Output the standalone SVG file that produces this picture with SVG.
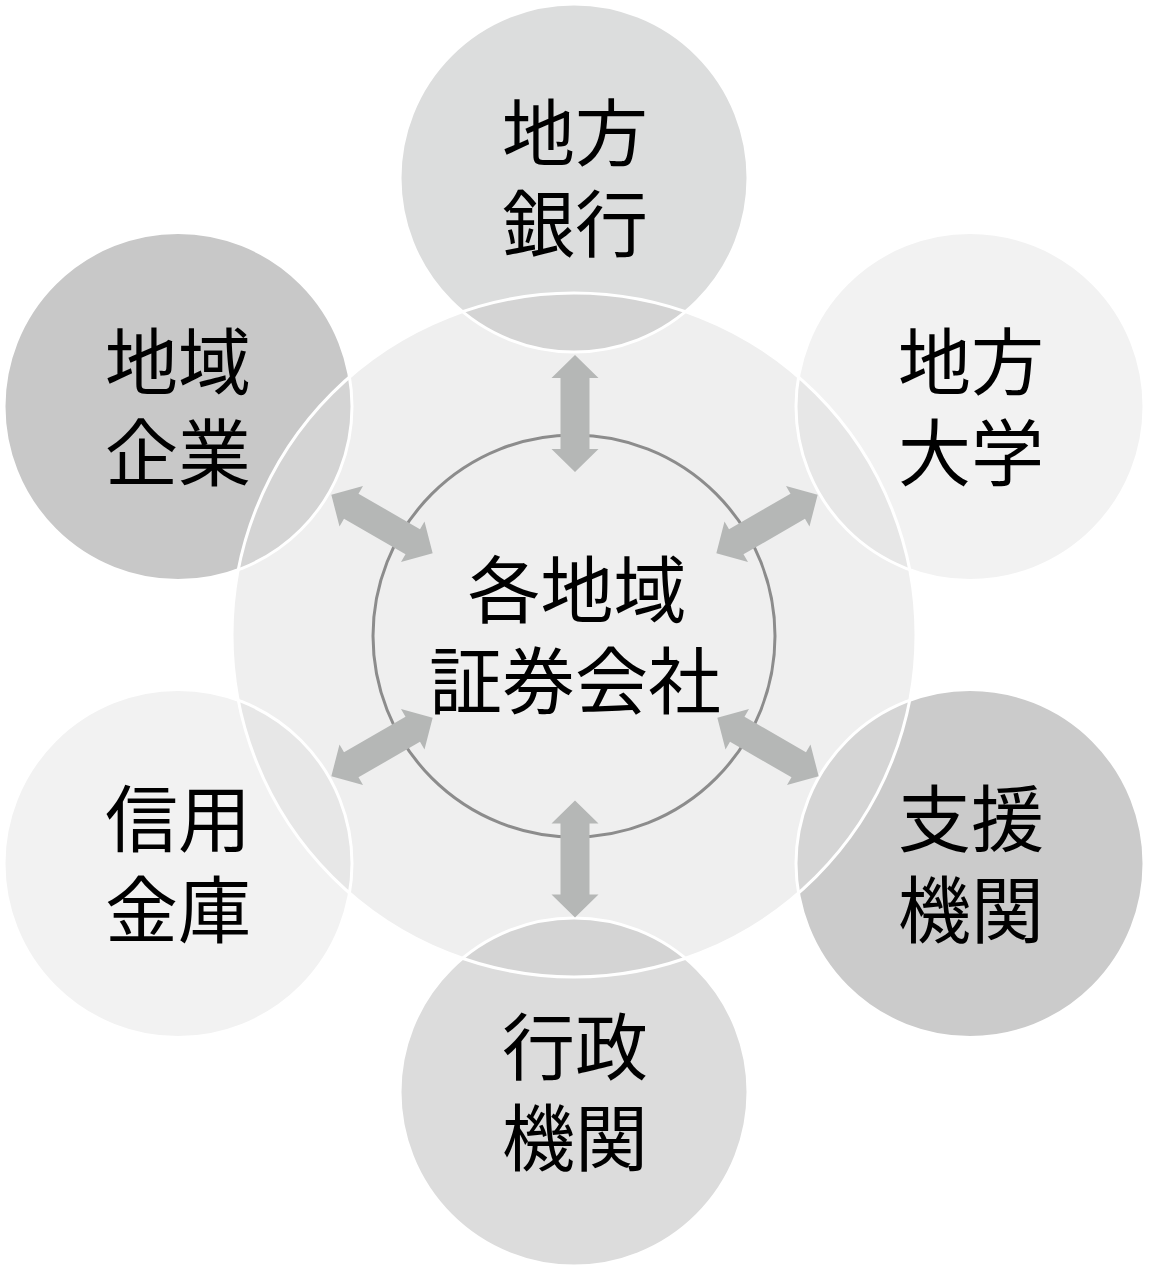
<svg xmlns="http://www.w3.org/2000/svg" width="1150" height="1272" viewBox="0 0 1150 1272">
<defs>
<style>
.ring{fill:none;stroke:#ffffff;stroke-width:3}
.lbl{font-family:"Noto Sans CJK JP","Noto Sans CJK SC",sans-serif;font-size:73px;fill:#000;text-anchor:middle}
.arr{fill:#b5b7b6}
</style>
<clipPath id="bigclip"><circle cx="574" cy="635" r="342"/></clipPath>
<path id="arrow" d="M0,-58.5 L23.5,-35.5 L14.5,-35.5 L14.5,35.5 L23.5,35.5 L0,58.5 L-23.5,35.5 L-14.5,35.5 L-14.5,-35.5 L-23.5,-35.5 Z"/>
</defs>
<rect width="1150" height="1272" fill="#ffffff"/>
<g id="fills">
<circle cx="574" cy="178" r="174" fill="#dcdddd"/>
<circle cx="970" cy="406.5" r="174" fill="#f2f2f2"/>
<circle cx="178" cy="406.5" r="174" fill="#c8c8c8"/>
<circle cx="178" cy="863.5" r="174" fill="#f2f2f2"/>
<circle cx="970" cy="863.5" r="174" fill="#cbcbcb"/>
<circle cx="574" cy="1092" r="174" fill="#dcdcdc"/>
<circle cx="574" cy="635" r="342" fill="#efefef"/>
<g clip-path="url(#bigclip)">
<circle cx="574" cy="178" r="174" fill="#d4d4d4"/>
<circle cx="970" cy="406.5" r="174" fill="#e7e7e7"/>
<circle cx="178" cy="406.5" r="174" fill="#d4d4d4"/>
<circle cx="178" cy="863.5" r="174" fill="#e7e7e7"/>
<circle cx="970" cy="863.5" r="174" fill="#d5d5d5"/>
<circle cx="574" cy="1092" r="174" fill="#d4d4d4"/>
</g>
</g>
<g id="center">
<circle class="ring" cx="574" cy="635" r="342"/>
<circle cx="574" cy="636" r="201" fill="#efefef" stroke="#8c8c8c" stroke-width="3"/>
<text class="lbl"><tspan x="577" y="617">各地域</tspan><tspan x="575" y="708">証券会社</tspan></text>
</g>
<g id="n-top">
<circle class="ring" cx="574" cy="178" r="174"/>
<text class="lbl"><tspan x="575" y="160">地方</tspan><tspan x="575" y="251">銀行</tspan></text>
</g>
<g id="n-topright">
<circle class="ring" cx="970" cy="406.5" r="174"/>
<text class="lbl"><tspan x="971" y="388.5">地方</tspan><tspan x="971" y="479.5">大学</tspan></text>
</g>
<g id="n-topleft">
<circle class="ring" cx="178" cy="406.5" r="174"/>
<text class="lbl"><tspan x="178" y="388.5">地域</tspan><tspan x="178" y="479.5">企業</tspan></text>
</g>
<g id="n-bottomleft">
<circle class="ring" cx="178" cy="863.5" r="174"/>
<text class="lbl"><tspan x="178" y="845.5">信用</tspan><tspan x="178" y="936.5">金庫</tspan></text>
</g>
<g id="n-bottomright">
<circle class="ring" cx="970" cy="863.5" r="174"/>
<text class="lbl"><tspan x="971" y="845.5">支援</tspan><tspan x="971" y="936.5">機関</tspan></text>
</g>
<g id="n-bottom">
<circle class="ring" cx="574" cy="1092" r="174"/>
<text class="lbl"><tspan x="575" y="1074">行政</tspan><tspan x="575" y="1165">機関</tspan></text>
</g>
<g id="connectors">
<use href="#arrow" class="arr" transform="translate(575,413.5)"/>
<use href="#arrow" class="arr" transform="translate(575,859)"/>
<use href="#arrow" class="arr" transform="translate(382,524) rotate(-60)"/>
<use href="#arrow" class="arr" transform="translate(767,524) rotate(60)"/>
<use href="#arrow" class="arr" transform="translate(382,747) rotate(60)"/>
<use href="#arrow" class="arr" transform="translate(768,747) rotate(-60)"/>
</g>
</svg>
